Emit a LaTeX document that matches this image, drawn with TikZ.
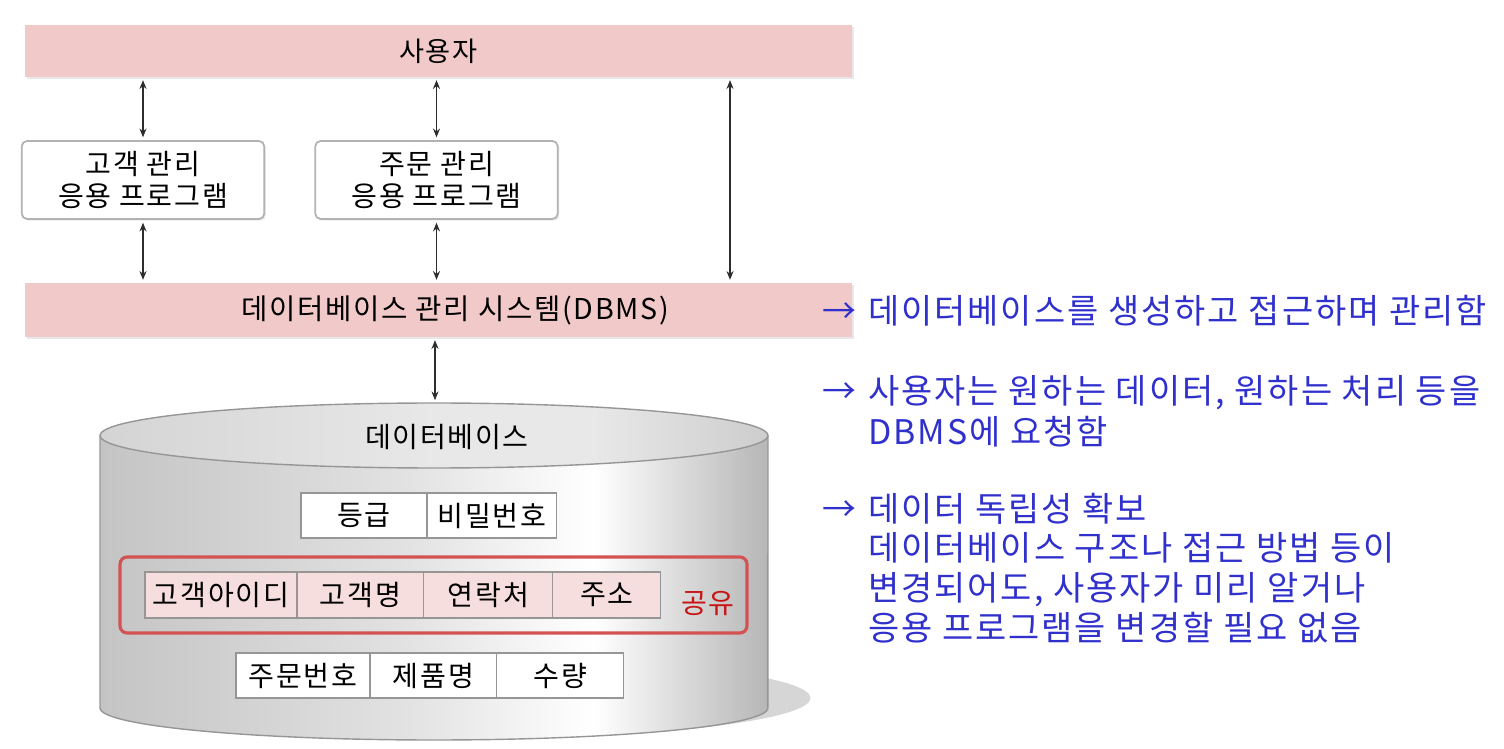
\documentclass[tikz,border=0pt]{standalone}
\usepackage{fontspec}
\setmainfont{Noto Sans CJK KR}[LetterSpace=6]
\usepackage{xcolor}
\usepackage{tikz}
\usetikzlibrary{arrows.meta, positioning, shadows}
\definecolor{mypink}{RGB}{242,201,201}
\definecolor{mycell}{RGB}{247,222,222}
\definecolor{myred}{RGB}{212,82,82}
\definecolor{mytxtred}{RGB}{200,20,20}
\definecolor{myblue}{RGB}{48,48,205}
\definecolor{mydark}{RGB}{45,45,45}
\definecolor{mgframe}{RGB}{178,178,178}
\definecolor{cylline}{RGB}{150,150,150}
\definecolor{cylleft}{RGB}{196,196,196}
\definecolor{cylmid}{RGB}{226,226,226}
\definecolor{cylright}{RGB}{182,182,182}
\definecolor{topleft}{RGB}{212,212,212}
\definecolor{topmid}{RGB}{232,232,232}
\definecolor{topright}{RGB}{205,205,205}
\definecolor{cylshade}{RGB}{214,214,214}
\pgfdeclarehorizontalshading{cylbody}{100bp}{color(0bp)=(cylleft); color(25bp)=(cylleft);
  color(48bp)=(cylmid); color(62bp)=(white); color(75bp)=(cylright); color(100bp)=(cylright)}
\pgfdeclarehorizontalshading{cyltop}{100bp}{color(0bp)=(topleft); color(25bp)=(topleft);
  color(50bp)=(topmid); color(62bp)=(topmid); color(75bp)=(topright); color(100bp)=(topright)}
\tikzset{
  band/.style={rectangle, fill=mypink, minimum width=16.54cm,
    drop shadow={shadow xshift=1.2pt, shadow yshift=-1.2pt, opacity=0.18}},
  appbox/.style={rectangle, draw=mgframe, fill=white, rounded corners=3pt,
    line width=1pt, minimum width=4.85cm, minimum height=1.56cm, align=center,
    font={\fontsize{16}{18}\selectfont},
    drop shadow={shadow xshift=1pt, shadow yshift=-1pt, opacity=0.15}},
  cell/.style={rectangle, draw=cylline, fill=white, minimum height=0.9cm,
    inner sep=0pt, outer sep=0pt, line width=0.6pt, font={\fontsize{16}{18}\selectfont}},
  redcell/.style={cell, fill=mycell, minimum height=0.92cm},
  sharebox/.style={rectangle, draw=myred, line width=1.8pt, rounded corners=4pt},
  dblarrow/.style={{Stealth[length=5pt,width=4pt]}-{Stealth[length=5pt,width=4pt]},
    line width=0.6pt, color=mydark, shorten >=1.6pt, shorten <=1.6pt},
  note/.style={anchor=base west, inner sep=0pt, text=myblue,
    font={\fontsize{19.3}{22.4}\selectfont}}
}

\begin{document}
\begin{tikzpicture}[x=0.02cm, y=-0.02cm]
  \useasboundingbox (0,0) rectangle (1504,749);

  % Users, applications and DBMS
  \node[band, minimum height=1.04cm, font={\fontsize{15.5}{18}\selectfont}] (user) at (438.5,51) {사용자};
  \node[appbox] (custapp) at (143,180) {고객 관리\\응용 프로그램};
  \node[appbox] (orderapp) at (436.5,180) {주문 관리\\응용 프로그램};
  \node[band, minimum height=1.08cm, font={\fontsize{16.3}{20}\selectfont}] (dbms) at (438.5,310) {\hspace*{19pt}데이터베이스 관리 시스템(DBMS)};
  \coordinate (direct) at (730,0);
  \coordinate (dbtop) at (435,403);

  \draw[dblarrow] (user.south -| custapp) -- (custapp.north);
  \draw[dblarrow] (user.south -| orderapp) -- (orderapp.north);
  \draw[dblarrow] (user.south -| direct) -- (dbms.north -| direct);
  \draw[dblarrow] (custapp.south) -- (dbms.north -| custapp);
  \draw[dblarrow] (orderapp.south) -- (dbms.north -| orderapp);
  \draw[dblarrow] (dbms.south -| dbtop) -- (dbtop);

  % Database cylinder
  \fill[cylshade] (478,698) ellipse [x radius=6.65cm, y radius=0.8cm];
  \path[shading=cylbody, draw=cylline, line width=0.8pt] (100,436) -- (100,708)
    arc[start angle=180, end angle=360, x radius=6.68cm, y radius=0.64cm] -- (768,436) -- cycle;
  \path[shading=cyltop, draw=cylline, line width=0.8pt] (434,435.5) ellipse [x radius=6.68cm, y radius=0.65cm];
  \node[font={\fontsize{16}{18}\selectfont}] (dblabel) at (447,437) {데이터베이스};

  % Tables
  \node[cell, minimum width=2.52cm] (grade) at (364,515.5) {등급};
  \node[cell, minimum width=2.6cm, right=0pt of grade] (pw) {비밀번호};

  \node[sharebox, minimum width=12.54cm, minimum height=1.52cm] (share) at (433.5,595) {};
  \node[redcell, minimum width=3.04cm] (custid) at (221,595) {고객아이디};
  \node[redcell, minimum width=2.54cm, right=0pt of custid] (custname) {고객명};
  \node[redcell, minimum width=2.58cm, right=0pt of custname] (phone) {연락처};
  \node[redcell, minimum width=2.16cm, right=0pt of phone] (addr) {주소};
  \node[text=mytxtred, font={\fontsize{16}{18}\selectfont}] (sharelabel) at (708,603) {공유};

  \node[cell, minimum width=2.68cm] (orderno) at (303,675.5) {주문번호};
  \node[cell, minimum width=2.54cm, right=0pt of orderno] (prodname) {제품명};
  \node[cell, minimum width=2.54cm, right=0pt of prodname] (qty) {수량};

  % Notes
  \node[note] (note1) at (822,324) {\begin{tabular}[t]{@{}l@{}l@{}}
    \makebox[26pt][l]{→} & 데이터베이스를 생성하고 접근하며 관리함\end{tabular}};
  \node[note] (note2) at (822,404) {\begin{tabular}[t]{@{}l@{}l@{}}
    \makebox[26pt][l]{→} & 사용자는 원하는 데이터, 원하는 처리 등을\\
    & DBMS에 요청함\end{tabular}};
  \node[note] (note3) at (822,521) {\begin{tabular}[t]{@{}l@{}l@{}}
    \makebox[26pt][l]{→} & 데이터 독립성 확보\\
    & 데이터베이스 구조나 접근 방법 등이\\
    & 변경되어도, 사용자가 미리 알거나\\
    & 응용 프로그램을 변경할 필요 없음\end{tabular}};
\end{tikzpicture}
\end{document}
